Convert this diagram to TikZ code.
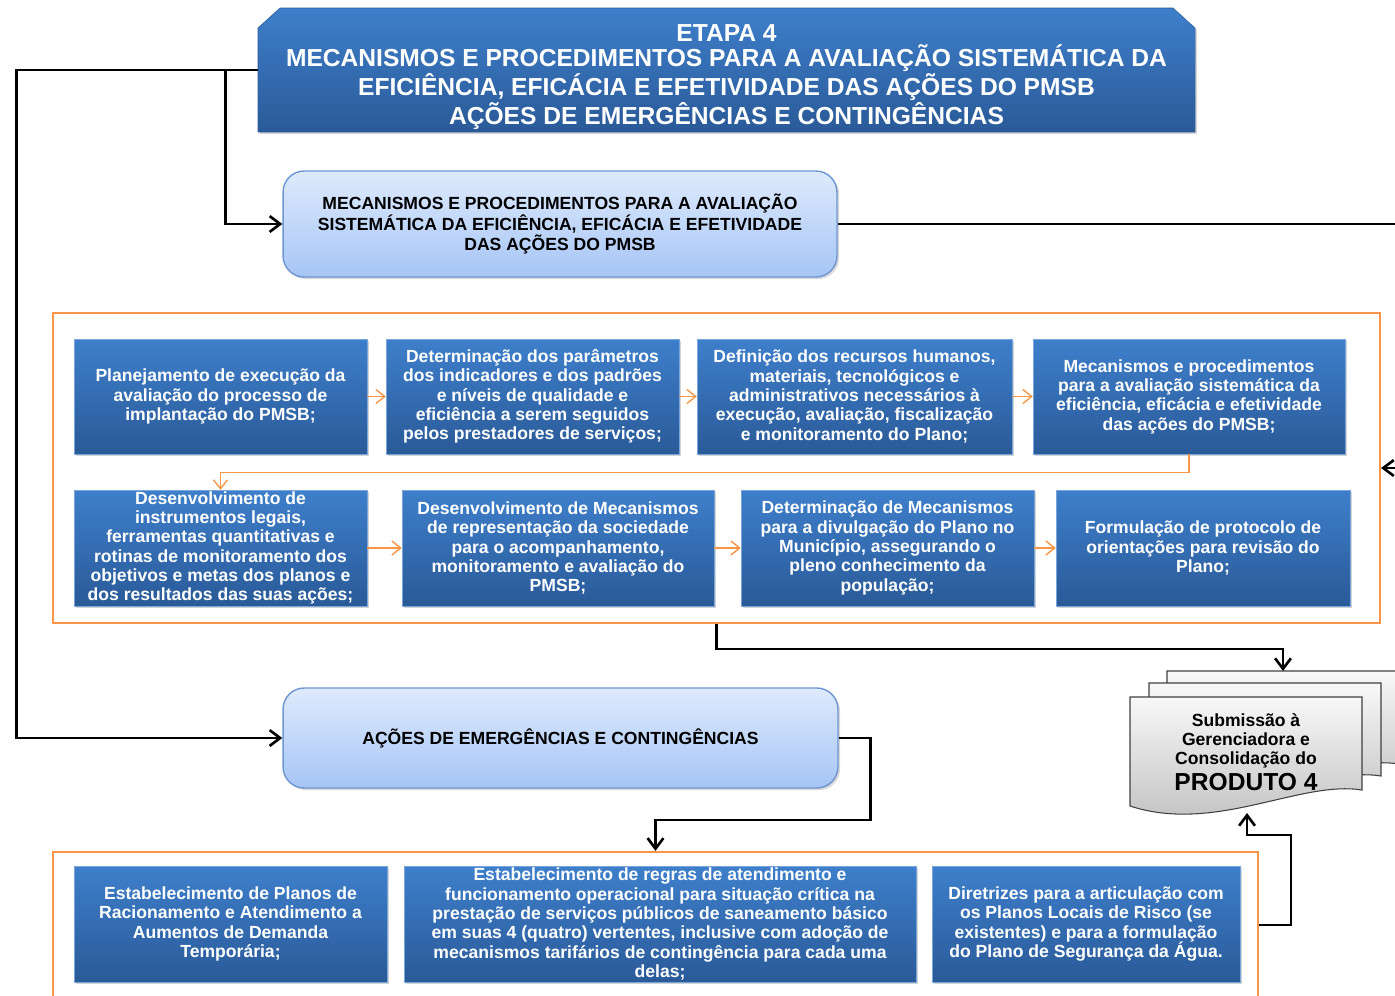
\documentclass[tikz,border=0pt]{standalone}
\usepackage{fontspec}
\setmainfont{Liberation Sans}
\usetikzlibrary{shapes, arrows.meta, shadows}

\definecolor{azultopo}{HTML}{3E7FCB}
\definecolor{azulbase}{HTML}{2A5A98}
\definecolor{clarotopo}{HTML}{DEEAFC}
\definecolor{clarobase}{HTML}{A6C5F6}
\definecolor{clarolinha}{HTML}{6E96D2}
\definecolor{laranja}{HTML}{F79646}
\definecolor{folhatopo}{HTML}{F8F8F8}
\definecolor{folhabase}{HTML}{BDBDBD}

\tikzset{
  passo/.style={rectangle, top color=azultopo, bottom color=azulbase, draw=azultopo!70!white, line width=0.3pt,
    text=white, font=\bfseries\fontsize{10}{11}\selectfont, align=center, inner sep=0pt,
    drop shadow={opacity=0.35, shadow xshift=1.2pt, shadow yshift=-1.2pt}},
  tema/.style={rectangle, rounded corners=12pt, top color=clarotopo, bottom color=clarobase, draw=clarolinha,
    line width=0.8pt, font=\bfseries\fontsize{10}{11}\selectfont, align=center,
    drop shadow={opacity=0.3, shadow xshift=1.2pt, shadow yshift=-1.2pt}},
  moldura/.style={rectangle, draw=laranja, line width=1.3pt},
  seta/.style={draw=laranja, line width=0.8pt, -{Straight Barb[length=5pt,width=8pt]}},
  fluxo/.style={draw=black, line width=1.5pt, -{Straight Barb[length=6pt,width=9pt]}},
  folha/.style={draw=black!75, line width=0.6pt, top color=folhatopo, bottom color=folhabase},
}

\begin{document}
\begin{tikzpicture}[x=0.02cm, y=-0.02cm]
\useasboundingbox (0,0) rectangle (1395,995);
\clip (0,0) rectangle (1395,995);

\shadedraw[draw=azulbase, line width=0.3pt, top color=azultopo, bottom color=azulbase,
  drop shadow={opacity=0.3, shadow xshift=1.2pt, shadow yshift=-1.2pt}]
  (258,28) -- (280,8) -- (1173,8) -- (1195,28) -- (1195,132) -- (258,132) -- cycle;
\node[minimum width=18.74cm, minimum height=2.48cm, inner sep=0pt] (etapa) at (726.5,70) {};
\node[text=white, align=center, inner sep=0pt,
  font=\bfseries\fontsize{14}{14.5}\selectfont] (etapatxt) at (726.5,77)
  {ETAPA 4\\MECANISMOS E PROCEDIMENTOS PARA A AVALIAÇÃO SISTEMÁTICA DA\\EFICIÊNCIA, EFICÁCIA E EFETIVIDADE DAS AÇÕES DO PMSB\\AÇÕES DE EMERGÊNCIAS E CONTINGÊNCIAS};

\node[moldura, minimum width=26.54cm, minimum height=6.2cm] (quadro1) at (716.5,468) {};
\node[moldura, minimum width=24.1cm, minimum height=2.92cm] (quadro2) at (655.5,925) {};

\node[tema, minimum width=11.08cm, minimum height=2.12cm] (aval) at (560,224)
  {MECANISMOS E PROCEDIMENTOS PARA A AVALIAÇÃO\\SISTEMÁTICA DA EFICIÊNCIA, EFICÁCIA E EFETIVIDADE\\DAS AÇÕES DO PMSB};
\node[tema, minimum width=11.1cm, minimum height=2cm] (emerg) at (560.5,738)
  {AÇÕES DE EMERGÊNCIAS E CONTINGÊNCIAS};

\node[passo, minimum width=5.86cm, minimum height=2.3cm] (p1) at (220.5,396.5)
  {Planejamento de execução da\\avaliação do processo de\\implantação do PMSB;};
\node[passo, minimum width=5.86cm, minimum height=2.3cm] (p2) at (532.5,396.5)
  {Determinação dos parâmetros\\dos indicadores e dos padrões\\e níveis de qualidade e\\eficiência a serem seguidos\\pelos prestadores de serviços;};
\node[passo, minimum width=6.3cm, minimum height=2.3cm] (p3) at (854.5,396.5)
  {Definição dos recursos humanos,\\materiais, tecnológicos e\\administrativos necessários à\\execução, avaliação, fiscalização\\e monitoramento do Plano;};
\node[passo, minimum width=6.24cm, minimum height=2.3cm] (p4) at (1189,396.5)
  {Mecanismos e procedimentos\\para a avaliação sistemática da\\eficiência, eficácia e efetividade\\das ações do PMSB;};
\node[passo, minimum width=5.86cm, minimum height=2.32cm] (p5) at (220.5,548)
  {Desenvolvimento  de\\instrumentos legais,\\ferramentas quantitativas e\\rotinas de monitoramento dos\\objetivos e metas dos planos e\\dos resultados das suas ações;};
\node[passo, minimum width=6.24cm, minimum height=2.32cm] (p6) at (558,548)
  {Desenvolvimento de Mecanismos\\de representação da sociedade\\para o acompanhamento,\\monitoramento e avaliação do\\PMSB;};
\node[passo, minimum width=5.86cm, minimum height=2.32cm] (p7) at (887.5,548)
  {Determinação de Mecanismos\\para a divulgação do Plano no\\Município, assegurando o\\pleno conhecimento da\\população;};
\node[passo, minimum width=5.88cm, minimum height=2.32cm] (p8) at (1203,548)
  {Formulação de protocolo de\\orientações para revisão do\\Plano;};

\node[passo, minimum width=6.26cm, minimum height=2.32cm] (e1) at (230.5,924)
  {Estabelecimento de Planos de\\Racionamento e Atendimento a\\Aumentos de Demanda\\Temporária;};
\node[passo, minimum width=10.24cm, minimum height=2.32cm] (e2) at (660,924)
  {Estabelecimento de regras de atendimento e\\funcionamento operacional para situação crítica na\\prestação de serviços públicos de saneamento básico\\em suas 4 (quatro) vertentes, inclusive com adoção de\\mecanismos tarifários de contingência para cada uma\\delas;};
\node[passo, minimum width=6.16cm, minimum height=2.32cm] (e3) at (1086,924)
  {Diretrizes para a articulação com\\os Planos Locais de Risco (se\\existentes) e para a formulação\\do Plano de Segurança da Água.};

\foreach \dx/\dy in {37/-26, 19/-14, 0/0}
  \shadedraw[folha, shift={(\dx,\dy)}] (1130,697) -- (1362,697) -- (1362,790)
    .. controls (1300,780) and (1215,834) .. (1130,806) -- cycle;
\node[align=center, font=\bfseries\fontsize{10}{10.8}\selectfont] (produto) at (1246,752)
  {Submissão à\\Gerenciadora e\\Consolidação do\\[2pt]{\fontsize{14}{15}\selectfont PRODUTO 4}};
\coordinate (topofolha) at (1283,671);
\coordinate (basefolha) at (1247,813);

\draw[seta] (p1) -- (p2);
\draw[seta] (p2) -- (p3);
\draw[seta] (p3) -- (p4);
\draw[seta] (p4.south) -- ++(0,18) -| (p5.north);
\draw[seta] (p5) -- (p6);
\draw[seta] (p6) -- (p7);
\draw[seta] (p7) -- (p8);

\draw[fluxo] (etapa.west) -- ++(-32,0) |- (aval.west);
\draw[fluxo] (etapa.west) -- ++(-241,0) |- (emerg.west);
\draw[fluxo] (aval.east) -- ++(600,0) |- (quadro1.east);
\draw[fluxo] (quadro1.south) -- ++(0,25) -| (topofolha);
\draw[fluxo] (emerg.east) -- ++(32,0) -- ++(0,82) -| (quadro2.north);
\draw[fluxo] (quadro2.east) -- ++(32,0) -- ++(0,-90) -| (basefolha);
\end{tikzpicture}
\end{document}
